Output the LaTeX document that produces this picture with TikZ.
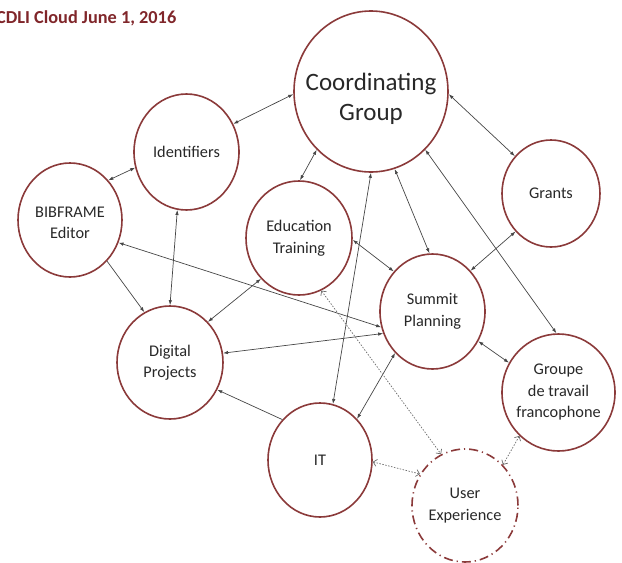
\documentclass[tikz,border=0pt]{standalone}
\usepackage{fontspec}
\setmainfont{Carlito}
\usetikzlibrary{arrows.meta,shapes.geometric}
\definecolor{ring}{RGB}{139,58,58}
\definecolor{ttl}{RGB}{128,38,42}
\definecolor{lnk}{RGB}{70,70,70}
\definecolor{txt}{RGB}{40,40,40}
\begin{document}
\begin{tikzpicture}[x=1pt,y=-1pt,
  grp/.style={ellipse, draw=ring, line width=1.6pt, inner sep=0pt, fill=white},
  lbl/.style={align=center, text=txt, inner sep=0pt, font=\fontsize{16.3}{21.5}\selectfont},
  biglbl/.style={align=center, text=txt, inner sep=0pt, font=\fontsize{25}{30}\selectfont},
  both/.style={draw=lnk, line width=0.7pt, {Latex[length=5pt,width=3.5pt]}-{Latex[length=5pt,width=3.5pt]}},
  one/.style={draw=lnk, line width=0.7pt, -{Latex[length=5pt,width=3.5pt]}},
  dotb/.style={draw=lnk!80, line width=0.7pt, dash pattern=on 1.5pt off 1.5pt,
    {Straight Barb[length=3.5pt,width=7pt]}-{Straight Barb[length=3.5pt,width=7pt]}},
  uxring/.style={ellipse, draw=ring, line width=1.6pt, inner sep=0pt,
    dash pattern=on 9pt off 4pt on 1.2pt off 4pt}
]
\useasboundingbox (0,0) rectangle (622,563);

\node[anchor=base west, text=ttl, inner sep=0pt, font=\bfseries\fontsize{18.3}{20}\selectfont] (title) at (-4,23) {CDLI Cloud June 1, 2016};

\node[grp, minimum width=154pt, minimum height=161pt, label={[biglbl, yshift=-7pt]center:Coordinating\\Group}] (cg) at (371,91.5) {};
\node[grp, minimum width=105pt, minimum height=116pt, label={[lbl]center:Identifiers}] (id) at (186.5,152) {};
\node[grp, minimum width=104pt, minimum height=114pt, label={[lbl, yshift=-3pt]center:BIBFRAME\\Editor}] (bib) at (70,220) {};
\node[grp, minimum width=106pt, minimum height=114pt, label={[lbl]center:Education\\Training}] (edu) at (299,238) {};
\node[grp, minimum width=98pt, minimum height=107pt, label={[lbl]center:Grants}] (gr) at (551,193.5) {};
\node[grp, minimum width=105pt, minimum height=115pt, label={[lbl]center:Summit\\Planning}] (sp) at (432.5,311.5) {};
\node[grp, minimum width=113pt, minimum height=117pt, label={[lbl]center:Groupe\\de travail\\francophone}] (gt) at (558.5,392.5) {};
\node[grp, minimum width=106pt, minimum height=113pt, label={[lbl]center:Digital\\Projects}] (dp) at (170,362.5) {};
\node[grp, minimum width=104pt, minimum height=114pt, label={[lbl]center:IT}] (it) at (320,460) {};
\node[uxring, minimum width=106pt, minimum height=113pt, label={[lbl]center:User\\Experience}] (ux) at (465,505.5) {};

\draw[both] (cg.182) -- (id.31);
\draw[both] (id.197) -- (bib.46);
\draw[both] (cg.227) -- (edu.89);
\draw[both] (cg.358) -- (gr.134);
\draw[both] (cg.287) -- (sp.93);
\draw[both] (cg.313) -- (gt.92);
\draw[both] (it.77) -- (cg.270);
\draw[both] (edu.358) -- (sp.134);
\draw[both] (gr.227) -- (sp.47);
\draw[both] (bib.335) -- (sp.197);
\draw[one] (bib.312) -- (dp.117);
\draw[both] (id.261) -- (dp.90);
\draw[both] (edu.227) -- (dp.47);
\draw[one] (it.133) -- (dp.330);
\draw[both] (dp.10) -- (sp.204);
\draw[both] (sp.228) -- (it.48);
\draw[both] (sp.327) -- (gt.149);
\draw[dotb] (edu.293) -- (ux.115);
\draw[dotb] (it.358) -- (ux.145);
\draw[dotb] (gt.228) -- (ux.47);
\end{tikzpicture}
\end{document}
